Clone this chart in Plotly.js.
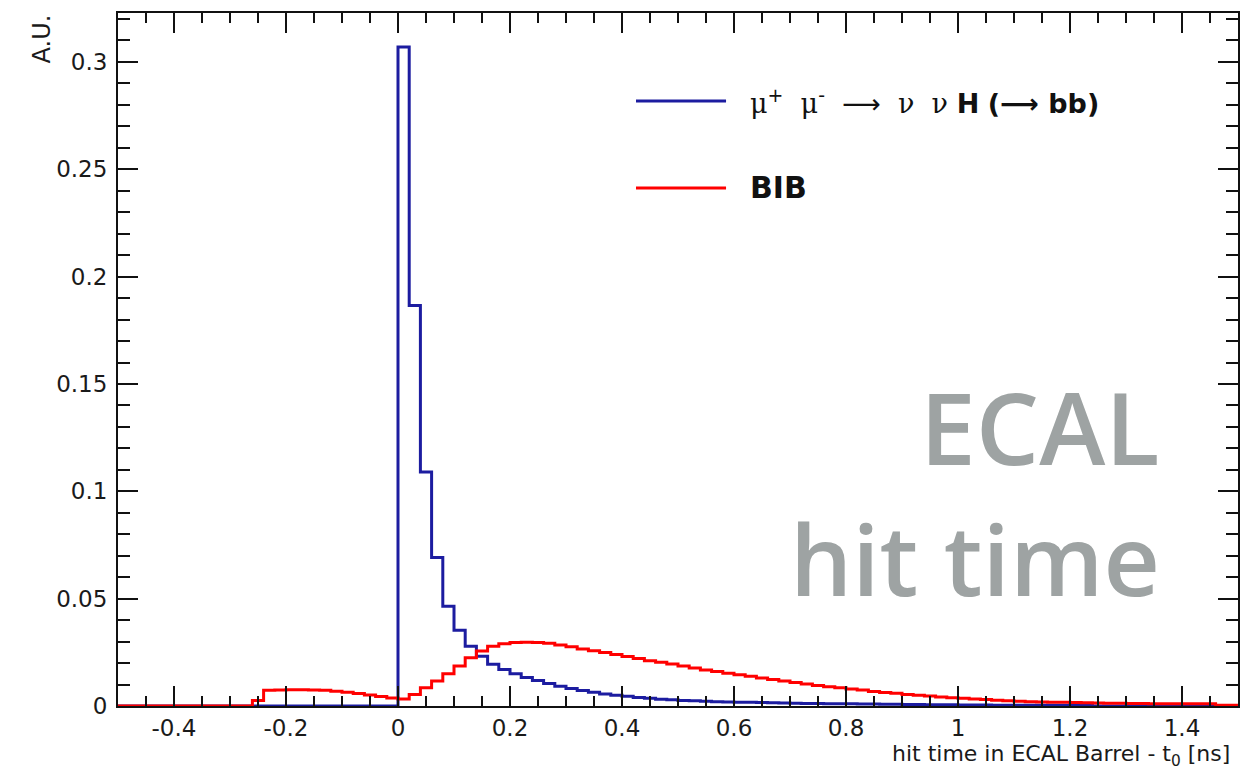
<!DOCTYPE html>
<html>
<head>
<meta charset="utf-8">
<script src="https://cdn.plot.ly/plotly-3.0.1.min.js"></script>
<style>
  html, body { margin: 0; padding: 0; background: #ffffff; }
  #chart { width: 1259px; height: 772px; }
</style>
</head>
<body>
<div id="chart"></div>
<script>
// Histogram binning: 100 bins of width 0.02 ns from -0.5 to 1.5
const binLow = -0.5;
const binWidth = 0.02;

// Signal: mu+ mu- -> nu nu H (-> bb), normalised (A.U.)
const signalValues = [
  0,0,0,0,0,0,0,0,0,0,
  0,0,0,0,0,0,0,0,0,0,
  0,0,0,0,0,
  0.307,0.1865,0.109,0.0692,0.0465,0.0353,0.0278,0.0232,0.0195,0.017,
  0.015,0.0133,0.0119,0.0105,0.0092,0.0082,0.0072,0.0064,0.0056,0.005,
  0.0045,0.004,0.0036,0.0032,0.0029,0.0026,0.0024,0.0022,0.002,0.0019,
  0.0018,0.0017,0.0016,0.0015,0.0014,0.0013,0.0012,0.0012,0.0011,0.0011,
  0.001,0.0009,0.0009,0.0008,0.0008,0.0007,0.0007,0.0006,0.0006,0.0006,
  0.0005,0.0005,0.0005,0.0004,0.0004,0.0004,0.0003,0.0003,0.0003,0.0003,
  0.0002,0.0002,
  0,0,0,0,0,0,0,0,0,0,0,0,0
];

// Beam-induced background (BIB), normalised (A.U.)
const bibValues = [
  0,0,0,0,0,0,0,0,0,0,0,0,
  0.0026,0.0073,0.0075,0.0076,0.0076,0.0075,0.0073,0.0069,0.0064,0.0058,
  0.0051,0.0044,0.0037,
  0.0033,0.0054,0.0085,0.0116,0.015,0.0186,0.0225,0.0256,0.0278,0.029,
  0.0296,0.0297,0.0296,0.0292,0.0284,0.0276,0.0266,0.0257,0.0249,0.024,
  0.0231,0.0221,0.0211,0.0204,0.0196,0.0186,0.0177,0.0168,0.0161,0.0153,
  0.0146,0.0138,0.013,0.0123,0.0116,0.011,0.0103,0.0096,0.009,0.0085,
  0.0079,0.0074,0.0068,0.0063,0.0059,0.0054,0.005,0.0046,0.0042,0.0039,
  0.0036,0.0033,0.003,0.0027,0.0025,0.0022,0.002,0.0019,0.0018,0.0017,
  0.0016,0.0015,0.0014,0.0013,0.0013,0.0012,0.0012,0.0011,0.0011,0.0011,
  0.001,0.001,0.001,0.0004,0.0003
];

// Tick labels
const xTickVals = [-0.4, -0.2, 0, 0.2, 0.4, 0.6, 0.8, 1, 1.2, 1.4];
const xTickText = ["-0.4", "-0.2", "0", "0.2", "0.4", "0.6", "0.8", "1", "1.2", "1.4"];
const yTickVals = [0, 0.05, 0.1, 0.15, 0.2, 0.25, 0.3];
const yTickText = ["0", "0.05", "0.1", "0.15", "0.2", "0.25", "0.3"];

const serif = (s) => '<span style="font-family:\'DejaVu Serif\'">' + s + '</span>';
const signalLabel = serif('μ') + '<sup>+</sup>  ' + serif('μ') + '<sup>-</sup>  ⟶  ' + serif('ν') + '  ' + serif('ν') + ' <b>H</b> <b>(⟶ bb)</b>';
const bibLabel = '<b>BIB</b>';

function stepTrace(values, color, name) {
  const xs = [];
  const ys = [];
  for (let i = 0; i <= values.length; i++) {
    xs.push(binLow + i * binWidth);
    ys.push(i < values.length ? values[i] : values[values.length - 1]);
  }
  return {
    type: 'scatter', mode: 'lines', name: name,
    x: xs, y: ys,
    line: { shape: 'hv', color: color, width: 3 },
    showlegend: false, hoverinfo: 'skip'
  };
}

const data = [
  stepTrace(signalValues, '#1c1ca0', 'signal'),
  stepTrace(bibValues, '#ff0000', 'BIB')
];

const axisFont = { family: 'DejaVu Sans, Liberation Sans, Arial, sans-serif', size: 23, color: '#1a1a1a' };

const layout = {
  width: 1259, height: 772,
  margin: { l: 118, r: 21, t: 13, b: 66 },
  paper_bgcolor: '#ffffff', plot_bgcolor: '#ffffff',
  showlegend: false,
  xaxis: {
    range: [-0.5, 1.5], showgrid: false, zeroline: false,
    showline: true, linecolor: '#111111', linewidth: 2, mirror: 'ticks',
    ticks: 'inside', ticklen: 20, tickwidth: 2, tickcolor: '#111111',
    tickvals: xTickVals, ticktext: xTickText, tickfont: axisFont,
    ticklabelstandoff: 0,
    minor: { dtick: 0.05, tick0: 0, ticks: 'inside', ticklen: 10, tickwidth: 2, tickcolor: '#111111', showgrid: false }
  },
  yaxis: {
    range: [0, 0.3228], showgrid: false, zeroline: false,
    showline: true, linecolor: '#111111', linewidth: 2, mirror: 'ticks',
    ticks: 'inside', ticklen: 20, tickwidth: 2, tickcolor: '#111111',
    tickvals: yTickVals, ticktext: yTickText, tickfont: axisFont,
    ticklabelstandoff: 4,
    minor: { dtick: 0.01, tick0: 0, ticks: 'inside', ticklen: 12, tickwidth: 2, tickcolor: '#111111', showgrid: false }
  },
  shapes: [
    { type: 'line', xref: 'paper', yref: 'paper', x0: 0.4625, x1: 0.5429, y0: 0.873, y1: 0.873,
      line: { color: '#1c1ca0', width: 3 } },
    { type: 'line', xref: 'paper', yref: 'paper', x0: 0.4625, x1: 0.5429, y0: 0.7475, y1: 0.7475,
      line: { color: '#ff0000', width: 3 } }
  ],
  annotations: [
    { text: signalLabel, xref: 'paper', yref: 'paper', x: 0.5625, y: 0.873, xanchor: 'left', yanchor: 'middle',
      showarrow: false, font: { family: 'DejaVu Sans, Arial, sans-serif', size: 27, color: '#111111' } },
    { text: bibLabel, xref: 'paper', yref: 'paper', x: 0.5625, y: 0.7475, xanchor: 'left', yanchor: 'middle',
      showarrow: false, font: { family: 'DejaVu Sans, Arial, sans-serif', size: 30, color: '#111111' } },
    { text: 'ECAL', xref: 'paper', yref: 'paper', x: 0.932, y: 0.404, xanchor: 'right', yanchor: 'middle',
      showarrow: false, font: { family: 'Open Sans, sans-serif', size: 100, color: '#9ea3a3', weight: 600 } },
    { text: 'hit time', xref: 'paper', yref: 'paper', x: 0.932, y: 0.2136, xanchor: 'right', yanchor: 'middle',
      showarrow: false, font: { family: 'Open Sans, sans-serif', size: 98, color: '#9ea3a3', weight: 600 } },
    { text: 'hit time in ECAL Barrel - t<sub>0</sub> [ns]', xref: 'paper', yref: 'paper', x: 0.9946, y: -0.0715,
      xanchor: 'right', yanchor: 'middle', showarrow: false,
      font: { family: 'DejaVu Sans, Arial, sans-serif', size: 22, color: '#1a1a1a' } },
    { text: 'A.U.', xref: 'paper', yref: 'paper', x: -0.0679, y: 1.0014, xanchor: 'center', yanchor: 'top',
      textangle: -90, showarrow: false,
      font: { family: 'DejaVu Sans, Arial, sans-serif', size: 24, color: '#1a1a1a' } }
  ]
};

Plotly.newPlot('chart', data, layout, { displayModeBar: false, staticPlot: true });
</script>
</body>
</html>
